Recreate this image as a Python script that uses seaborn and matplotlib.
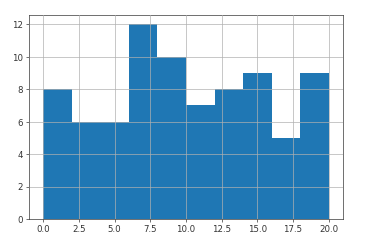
import matplotlib
matplotlib.use("Agg")
import matplotlib.pyplot as plt
import seaborn as sns
import numpy as np

bin_edges = [0, 2, 4, 6, 8, 10, 12, 14, 16, 18, 20]
bin_centers = [1, 3, 5, 7, 9, 11, 13, 15, 17, 19]
counts = [8, 6, 6, 12, 10, 7, 8, 9, 5, 9]

plt.rcParams['font.family'] = ['DejaVu Sans']
plt.rcParams['font.size'] = 10

fig = plt.figure(figsize=(6, 4), dpi=371/6)
ax = fig.add_axes([29/371, 1-219/247, (343-29)/371, (219-15)/247])

sns.histplot(x=bin_centers, weights=counts, bins=bin_edges, ax=ax,
             color='#1f77b4', alpha=1.0, edgecolor='none', linewidth=0)
ax.set_axisbelow(False)
ax.grid(True, color='#b0b0b0', linewidth=0.8, zorder=2)
ax.set_xlim(-1, 21)
ax.set_ylim(0, 12.6)
ax.set_xticks([0, 2.5, 5, 7.5, 10, 12.5, 15, 17.5, 20])
ax.set_xticklabels(['0.0', '2.5', '5.0', '7.5', '10.0', '12.5', '15.0', '17.5', '20.0'])
ax.set_yticks([0, 2, 4, 6, 8, 10, 12])
ax.set_xlabel('')
ax.set_ylabel('')
for s in ax.spines.values():
    s.set_color('#333333')
    s.set_linewidth(0.8)
ax.tick_params(labelsize=10, colors='#333333')

fig.savefig('out.png', dpi=371/6)
